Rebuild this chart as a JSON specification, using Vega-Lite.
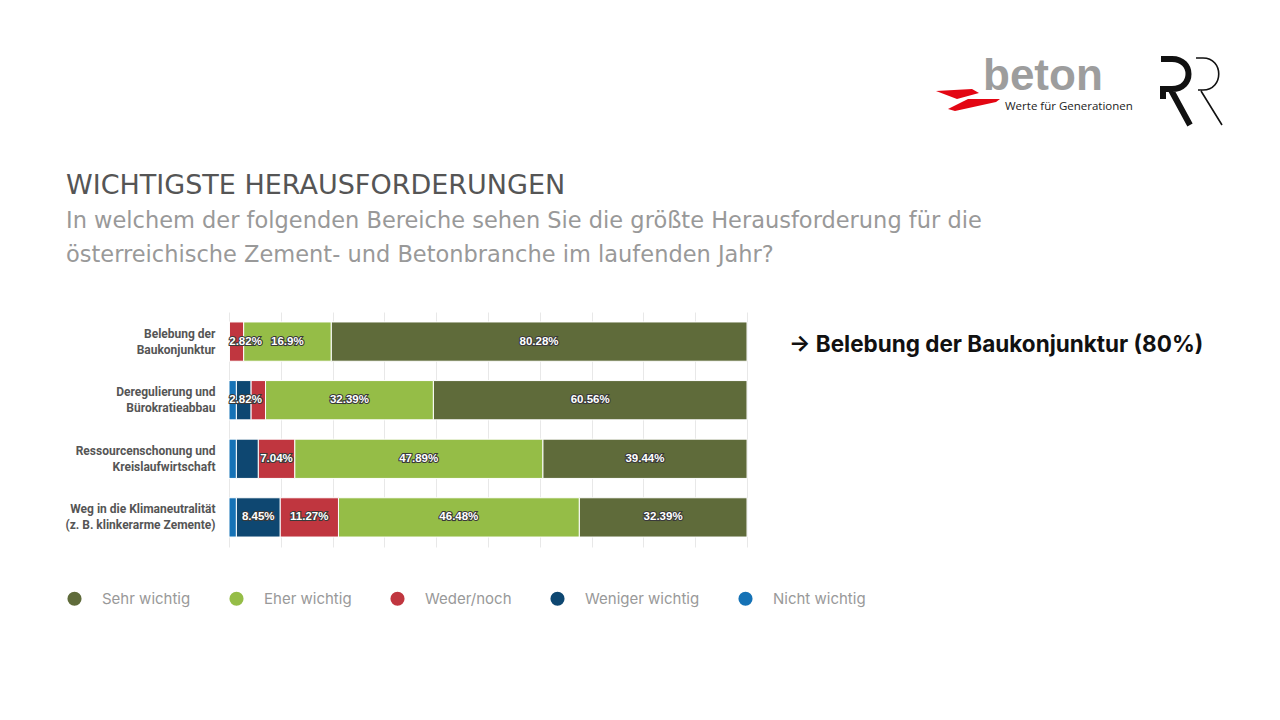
{
  "$schema": "https://vega.github.io/schema/vega-lite/v6.json",
  "width": 518,
  "height": 235,
  "autosize": "none",
  "padding": {"left": 229, "top": 312, "right": 533, "bottom": 173},
  "background": "white",
  "config": {"view": {"stroke": null}, "font": "Inter"},
  "title": {
    "text": "WICHTIGSTE HERAUSFORDERUNGEN",
    "subtitle": ["In welchem der folgenden Bereiche sehen Sie die größte Herausforderung für die", "österreichische Zement- und Betonbranche im laufenden Jahr?"],
    "anchor": "start",
    "frame": "group",
    "dx": -163,
    "dy": 221,
    "offset": 0,
    "font": "DejaVu Sans",
    "fontSize": 27,
    "fontWeight": 400,
    "color": "#555555",
    "subtitleFont": "DejaVu Sans",
    "subtitleFontSize": 22.5,
    "subtitleColor": "#999999",
    "subtitleLineHeight": 34,
    "subtitlePadding": 10
  },
  "layer": [
    {
      "data": {
        "values": [
          {"q": "Belebung der Baukonjunktur", "cat": "Sehr wichtig", "value": 80.28},
          {"q": "Belebung der Baukonjunktur", "cat": "Eher wichtig", "value": 16.9},
          {"q": "Belebung der Baukonjunktur", "cat": "Weder/noch", "value": 2.82},
          {"q": "Belebung der Baukonjunktur", "cat": "Weniger wichtig", "value": 0},
          {"q": "Belebung der Baukonjunktur", "cat": "Nicht wichtig", "value": 0},
          {"q": "Deregulierung und Bürokratieabbau", "cat": "Sehr wichtig", "value": 60.56},
          {"q": "Deregulierung und Bürokratieabbau", "cat": "Eher wichtig", "value": 32.39},
          {"q": "Deregulierung und Bürokratieabbau", "cat": "Weder/noch", "value": 2.82},
          {"q": "Deregulierung und Bürokratieabbau", "cat": "Weniger wichtig", "value": 2.82},
          {"q": "Deregulierung und Bürokratieabbau", "cat": "Nicht wichtig", "value": 1.41},
          {"q": "Ressourcenschonung und Kreislaufwirtschaft", "cat": "Sehr wichtig", "value": 39.44},
          {"q": "Ressourcenschonung und Kreislaufwirtschaft", "cat": "Eher wichtig", "value": 47.89},
          {"q": "Ressourcenschonung und Kreislaufwirtschaft", "cat": "Weder/noch", "value": 7.04},
          {"q": "Ressourcenschonung und Kreislaufwirtschaft", "cat": "Weniger wichtig", "value": 4.23},
          {"q": "Ressourcenschonung und Kreislaufwirtschaft", "cat": "Nicht wichtig", "value": 1.41},
          {"q": "Weg in die Klimaneutralität (z. B. klinkerarme Zemente)", "cat": "Sehr wichtig", "value": 32.39},
          {"q": "Weg in die Klimaneutralität (z. B. klinkerarme Zemente)", "cat": "Eher wichtig", "value": 46.48},
          {"q": "Weg in die Klimaneutralität (z. B. klinkerarme Zemente)", "cat": "Weder/noch", "value": 11.27},
          {"q": "Weg in die Klimaneutralität (z. B. klinkerarme Zemente)", "cat": "Weniger wichtig", "value": 8.45},
          {"q": "Weg in die Klimaneutralität (z. B. klinkerarme Zemente)", "cat": "Nicht wichtig", "value": 1.41}
        ]
      },
      "transform": [
        {"calculate": "indexof(['Nicht wichtig','Weniger wichtig','Weder/noch','Eher wichtig','Sehr wichtig'], datum.cat)", "as": "ord"},
        {"stack": "value", "groupby": ["q"], "sort": [{"field": "ord", "order": "ascending"}], "as": ["v0", "v1"]},
        {"calculate": "max((datum.v0 + datum.v1) / 2, 3.2)", "as": "mid"},
        {"calculate": "datum.value + '%'", "as": "lbl"}
      ],
      "encoding": {
        "y": {
          "field": "q",
          "type": "nominal",
          "sort": ["Belebung der Baukonjunktur", "Deregulierung und Bürokratieabbau", "Ressourcenschonung und Kreislaufwirtschaft", "Weg in die Klimaneutralität (z. B. klinkerarme Zemente)"],
          "scale": {"paddingInner": 0.33, "paddingOuter": 0.17},
          "axis": {
            "title": null,
            "ticks": false,
            "domain": false,
            "labelPadding": 14,
            "labelFont": "Roboto",
            "labelFontWeight": "bold",
            "labelFontSize": 12,
            "labelColor": "#555555",
            "labelLineHeight": 16,
            "labelOffset": -8,
            "labelLimit": 300,
            "labelExpr": "datum.value == 'Belebung der Baukonjunktur' ? ['Belebung der', 'Baukonjunktur'] : datum.value == 'Deregulierung und Bürokratieabbau' ? ['Deregulierung und', 'Bürokratieabbau'] : datum.value == 'Ressourcenschonung und Kreislaufwirtschaft' ? ['Ressourcenschonung und', 'Kreislaufwirtschaft'] : ['Weg in die Klimaneutralität', '(z. B. klinkerarme Zemente)']"
          }
        }
      },
      "layer": [
        {
          "mark": {"type": "bar", "stroke": "white", "strokeWidth": 1},
          "encoding": {
            "x": {
              "field": "v0",
              "type": "quantitative",
              "scale": {"domain": [0, 100], "nice": false},
              "axis": {"title": null, "labels": false, "ticks": false, "domain": false, "grid": true, "gridColor": "#e8e8e8", "gridWidth": 1, "values": [0, 10, 20, 30, 40, 50, 60, 70, 80, 90, 100]}
            },
            "x2": {"field": "v1"},
            "color": {
              "field": "cat",
              "type": "nominal",
              "scale": {
                "domain": ["Sehr wichtig", "Eher wichtig", "Weder/noch", "Weniger wichtig", "Nicht wichtig"],
                "range": ["#5f6b3a", "#95bd47", "#c0363f", "#0e4771", "#1572b6"]
              },
              "legend": {
                "title": null,
                "orient": "none",
                "direction": "horizontal",
                "legendX": -162,
                "legendY": 279,
                "symbolType": "circle",
                "symbolSize": 200,
                "symbolStrokeWidth": 0,
                "labelFont": "Inter",
                "labelFontSize": 15,
                "labelColor": "#999999",
                "labelOffset": 20,
                "columnPadding": 38,
                "labelLimit": 300
              }
            }
          }
        },
        {
          "transform": [{"filter": "datum.value >= 7 || (datum.value > 2 && datum.value < 3 && datum.v0 < 2)"}],
          "mark": {"type": "text", "font": "Liberation Sans", "fontWeight": "bold", "fontSize": 11.5, "fill": "#3a3a3a", "stroke": "#3a3a3a", "strokeWidth": 2.2, "baseline": "middle", "align": "center"},
          "encoding": {
            "x": {"field": "mid", "type": "quantitative"},
            "text": {"field": "lbl"}
          }
        },
        {
          "transform": [{"filter": "datum.value >= 7 || (datum.value > 2 && datum.value < 3 && datum.v0 < 2)"}],
          "mark": {"type": "text", "font": "Liberation Sans", "fontWeight": "bold", "fontSize": 11.5, "fill": "white", "baseline": "middle", "align": "center"},
          "encoding": {
            "x": {"field": "mid", "type": "quantitative"},
            "text": {"field": "lbl"}
          }
        }
      ]
    },
    {
      "data": {"values": [{"note": "→ Belebung der Baukonjunktur (80%)"}]},
      "mark": {"type": "text", "font": "Inter", "fontWeight": "bold", "fontSize": 22.5, "fill": "#111111", "align": "left", "baseline": "middle", "dy": 3},
      "encoding": {
        "x": {"datum": 108.1, "type": "quantitative"},
        "y": {"datum": "Belebung der Baukonjunktur", "type": "nominal"},
        "text": {"field": "note"}
      }
    },
    {
      "data": {"values": [{"t": "beton"}]},
      "mark": {"type": "text", "font": "Liberation Sans", "fontWeight": "bold", "fontSize": 44, "fill": "#9d9d9d", "align": "left", "baseline": "alphabetic", "x": 754, "y": -222},
      "encoding": {"text": {"field": "t"}}
    },
    {
      "data": {"values": [{"t": "Werte für Generationen"}]},
      "mark": {"type": "text", "font": "Open Sans", "fontSize": 11.5, "fill": "#222222", "align": "left", "baseline": "alphabetic", "x": 776, "y": -202},
      "encoding": {"text": {"field": "t"}}
    },
    {
      "data": {"values": [{}]},
      "mark": {"type": "point", "shape": "M-0.829,-0.257L0.2,-0.314L0.4,-0.2L-0.229,-0.029Z M-0.486,0.257L0.086,-0.029L1,-0.029L0.886,0.057L-0.286,0.314Z", "size": 4900, "filled": true, "fill": "#e30613", "strokeWidth": 0, "opacity": 1, "x": 736, "y": -212},
      "encoding": {}
    },
    {
      "data": {"values": [{}]},
      "mark": {"type": "point", "shape": "M-0.806,-0.889L-0.5,-0.889C0.111,-0.889,0.111,-0.056,-0.5,-0.056L-0.75,-0.056L-0.75,0.222M-0.528,-0.028L0,0.944", "size": 5184, "filled": false, "stroke": "#111111", "strokeWidth": 6, "opacity": 1, "x": 961, "y": -221},
      "encoding": {}
    },
    {
      "data": {"values": [{}]},
      "mark": {"type": "point", "shape": "M0.167,-0.917L0.361,-0.917C0.944,-0.917,0.944,-0.028,0.361,-0.028L0.222,-0.028M0.306,0L0.889,0.944", "size": 5184, "filled": false, "stroke": "#111111", "strokeWidth": 1.6, "opacity": 1, "x": 961, "y": -221},
      "encoding": {}
    }
  ]
}
